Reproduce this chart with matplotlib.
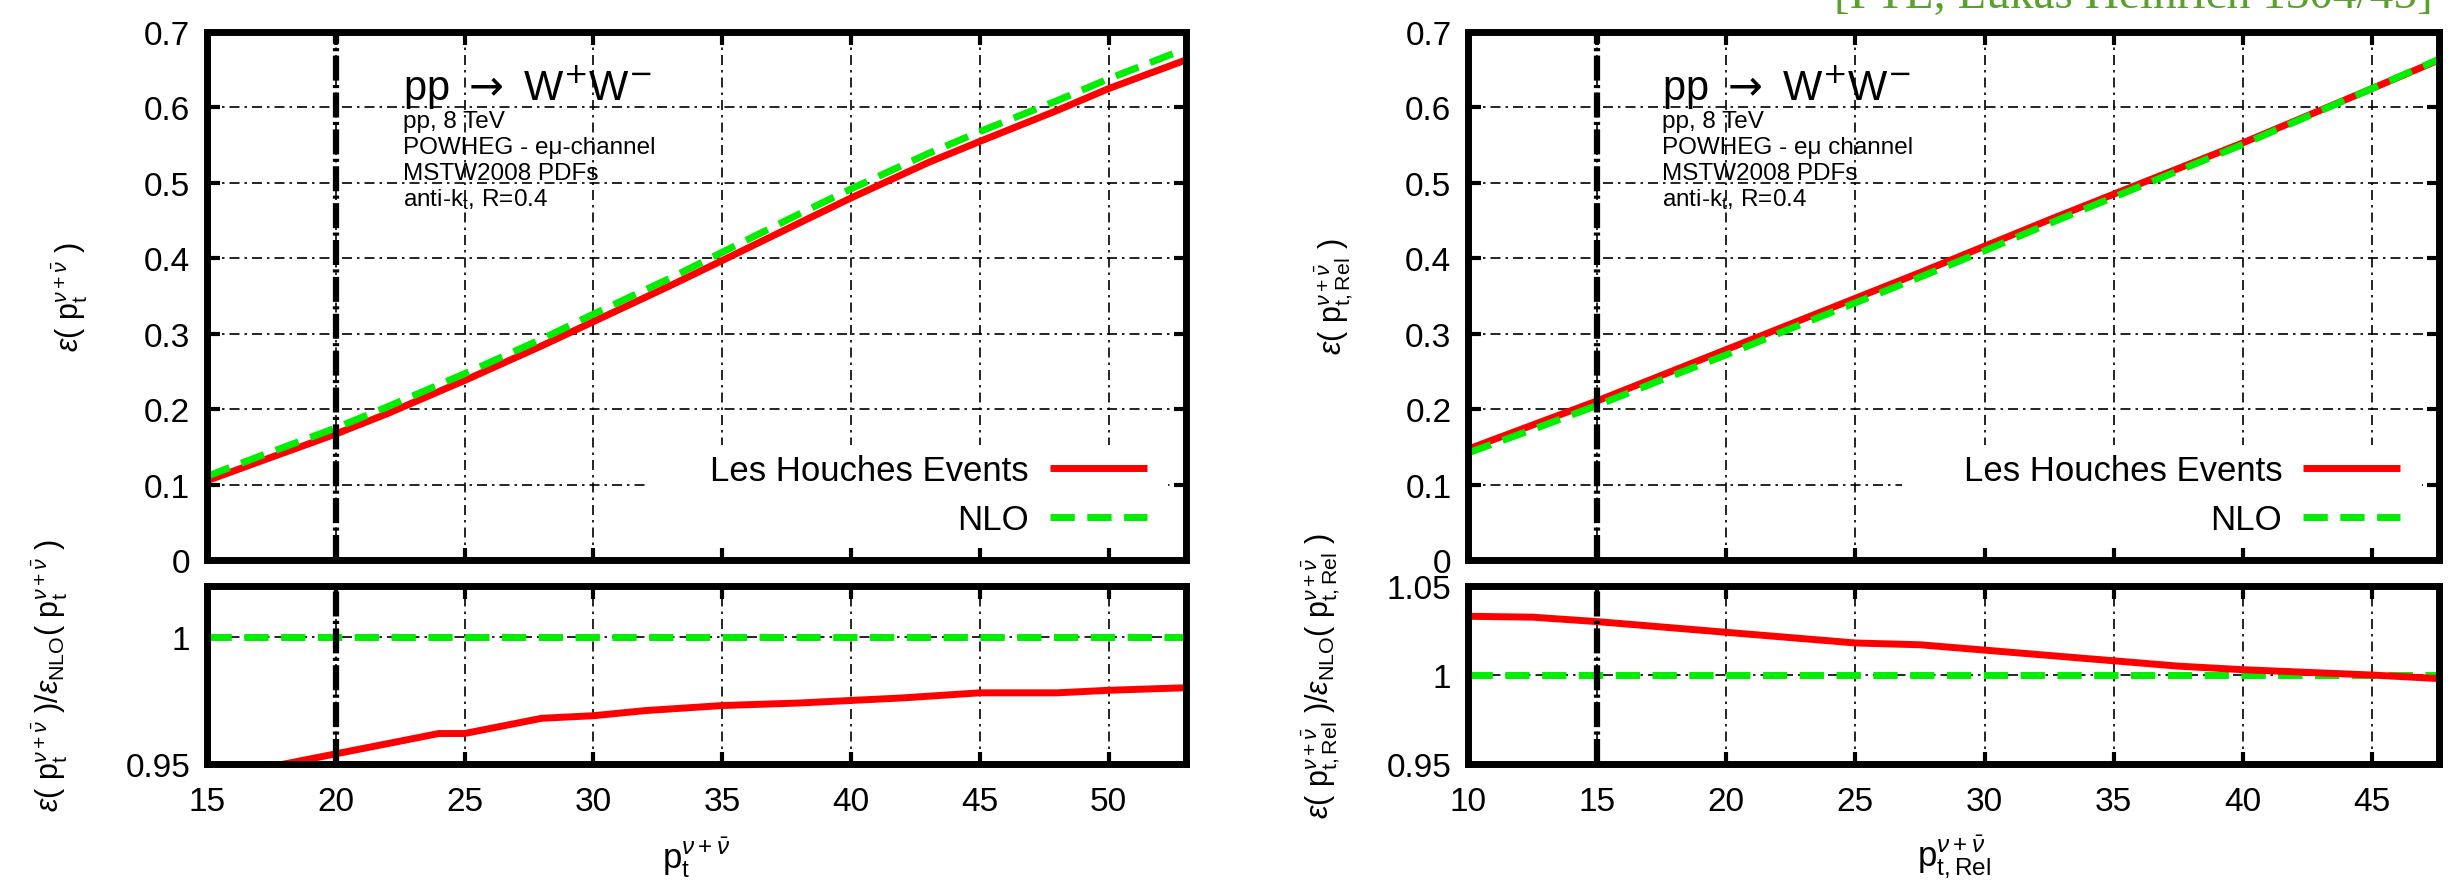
import numpy as np
import matplotlib
matplotlib.use("Agg")
import matplotlib.pyplot as plt
from matplotlib.patches import Rectangle

plt.rcParams['font.family'] = ['Liberation Sans', 'DejaVu Sans']
plt.rcParams['mathtext.fontset'] = 'custom'
plt.rcParams['mathtext.rm'] = 'Liberation Sans'
plt.rcParams['mathtext.it'] = 'Liberation Sans:italic'
plt.rcParams['mathtext.bf'] = 'Liberation Sans:bold'
plt.rcParams['mathtext.sf'] = 'Liberation Sans'

# ---- left: p_t of the neutrino pair ----
left_x = [15, 17, 20, 22, 25, 28, 30, 33, 35, 38, 40, 43, 45, 48, 50, 53]
left_lhe = [0.105, 0.130, 0.167, 0.194, 0.238, 0.284, 0.316, 0.364, 0.397, 0.447,
            0.480, 0.527, 0.555, 0.596, 0.625, 0.663]
left_nlo = [0.111, 0.137, 0.175, 0.203, 0.247, 0.293, 0.326, 0.374, 0.408, 0.459,
            0.492, 0.539, 0.568, 0.609, 0.638, 0.678]
left_ratio_x = [15, 16, 17, 18, 19, 20, 22, 24, 25, 26, 28, 30, 32, 35, 38, 40, 42, 45, 48, 50, 53]
left_ratio = [0.944, 0.946, 0.948, 0.950, 0.952, 0.954, 0.958, 0.962, 0.962, 0.964, 0.968,
              0.969, 0.971, 0.973, 0.974, 0.975, 0.976, 0.978, 0.978, 0.979, 0.980]
left_xticks = [15, 20, 25, 30, 35, 40, 45, 50]
left_cut = 20

# ---- right: relative p_t ----
right_x = [10, 12.5, 15, 17.5, 20, 22.5, 25, 27.5, 30, 32.5, 35, 37.5, 40, 42.5, 45, 47.6]
right_lhe = [0.147, 0.179, 0.211, 0.245, 0.279, 0.313, 0.347, 0.381, 0.416, 0.451,
             0.485, 0.519, 0.553, 0.589, 0.625, 0.663]
right_nlo = [0.142, 0.173, 0.205, 0.239, 0.272, 0.307, 0.341, 0.375, 0.410, 0.446,
             0.481, 0.516, 0.551, 0.588, 0.625, 0.664]
right_ratio = [1.033, 1.0325, 1.030, 1.027, 1.024, 1.021, 1.018, 1.017, 1.014, 1.011,
               1.008, 1.005, 1.003, 1.0015, 1.000, 0.998]
right_xticks = [10, 15, 20, 25, 30, 35, 40, 45]
right_cut = 15

eff_ticks = [0, 0.1, 0.2, 0.3, 0.4, 0.5, 0.6, 0.7]
eff_ticklabels = ['0', '0.1', '0.2', '0.3', '0.4', '0.5', '0.6', '0.7']

info_lines_left = ['pp, 8 TeV', 'POWHEG - e\u03bc-channel', 'MSTW2008 PDFs', r'anti-k$_\mathrm{t}$, R=0.4']
info_lines_right = ['pp, 8 TeV', 'POWHEG - e\u03bc channel', 'MSTW2008 PDFs', r'anti-k$_\mathrm{t}$, R=0.4']

RED = '#ff0000'
GREEN = '#00ee00'
GRID_LS = (0, (6, 3, 1.5, 3))
CUT_LS = (0, (4, 0.7, 0.5, 0.7))


def style(ax):
    for s in ax.spines.values():
        s.set_linewidth(5)
    ax.tick_params(direction='in', length=9, width=3, top=True, right=True,
                   labelsize=24, pad=12)
    ax.set_axisbelow(True)
    ax.grid(True, color='k', lw=1.2, ls=GRID_LS)


def panel(x0, width, xlim, xticks, cut, x, lhe, nlo, rx, ratio, rlim, rticks, rlabels,
          var, info_lines, ylab_top_x, ylab_bot_x):
    ax = fig.add_axes([x0, 0.3675, width, 0.5953])
    axr = fig.add_axes([x0, 0.1375, width, 0.2007])
    style(ax)
    style(axr)

    l1, = ax.plot(x, lhe, color=RED, lw=5, solid_capstyle='butt', zorder=2)
    l2, = ax.plot(x, nlo, color=GREEN, lw=5, ls=(0, (3.5, 1.8)), zorder=2.1)
    ax.axvline(cut, color='k', lw=4.5, ls=CUT_LS, zorder=4)
    ax.set_xlim(xlim)
    ax.set_ylim(0, 0.7)
    ax.set_xticks(xticks)
    ax.set_xticklabels([])
    ax.set_yticks(eff_ticks)
    ax.set_yticklabels(eff_ticklabels)

    # white area behind the key
    ax.add_patch(Rectangle((0.447, 0.022), 0.535, 0.196, transform=ax.transAxes,
                           facecolor='white', edgecolor='none', zorder=1))
    ax.legend([l1, l2], ['Les Houches Events', 'NLO'], loc='center right',
              bbox_to_anchor=(0.96, 0.123), frameon=False, markerfirst=False,
              fontsize=25, handlelength=2.8, handletextpad=0.6, labelspacing=0.45,
              borderpad=0, borderaxespad=0)

    ax.text(0.2, 0.873, r'pp $\rightarrow$ W$^{+}$W$^{-}$', transform=ax.transAxes,
            fontsize=30, va='baseline', ha='left', math_fontfamily='dejavusans')
    for i, line in enumerate(info_lines):
        ax.text(0.2, 0.831 - 0.049 * i, line, transform=ax.transAxes,
                fontsize=17.5, va='center', ha='left')

    ax.text(ylab_top_x, 0.5, r'$\varepsilon(\ \mathrm{p}_{%s}^{\nu+\bar{\nu}}\ )$' % var,
            transform=ax.transAxes, rotation=90, fontsize=22, ha='center', va='center')

    axr.plot(rx, [1.0] * len(rx), color=GREEN, lw=5, ls=(0, (3.5, 1.8)), zorder=2)
    axr.plot(rx, ratio, color=RED, lw=5, zorder=2.1)
    axr.axvline(cut, color='k', lw=4.5, ls=CUT_LS, zorder=4)
    axr.set_xlim(xlim)
    axr.set_ylim(rlim)
    axr.set_xticks(xticks)
    axr.set_xticklabels([str(t) for t in xticks])
    axr.set_yticks(rticks)
    axr.set_yticklabels(rlabels)
    axr.tick_params(axis='x', pad=16)
    axr.text(ylab_bot_x, 0.5,
             r'$\varepsilon(\ \mathrm{p}_{%s}^{\nu+\bar{\nu}}\ )/\varepsilon_{\mathrm{NLO}}(\ \mathrm{p}_{%s}^{\nu+\bar{\nu}}\ )$' % (var, var),
             transform=axr.transAxes, rotation=90, fontsize=22, ha='center', va='center')
    axr.text(0.5, -0.52, r'$\mathrm{p}_{%s}^{\nu+\bar{\nu}}$' % var, transform=axr.transAxes,
             fontsize=25, ha='center', va='center')


fig = plt.figure(figsize=(24.57, 8.87), dpi=100)

panel(0.0842, 0.3985, (15, 53), left_xticks, left_cut, left_x, left_lhe, left_nlo,
      left_ratio_x, left_ratio, (0.95, 1.02), [0.95, 1.0], ['0.95', '1'],
      r'\mathrm{t}', info_lines_left, -0.14, -0.16)
panel(0.5975, 0.3952, (10, 47.6), right_xticks, right_cut, right_x, right_lhe, right_nlo,
      right_x, right_ratio, (0.95, 1.05), [0.95, 1.0, 1.05], ['0.95', '1', '1.05'],
      r'\mathrm{t,Rel}', info_lines_right, -0.138, -0.152)

# reference note, cut off at the top edge of the page
fig.text(0.99, 1 - 8 / 887, '[PTL, Lukas Heinrich 1304/45]', ha='right', va='baseline',
         color='#5aa02c', fontsize=34, family='Liberation Serif')

fig.savefig('out.png', dpi=100)
